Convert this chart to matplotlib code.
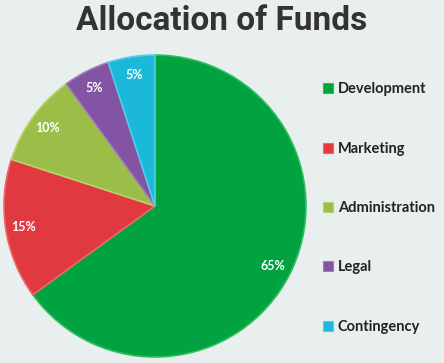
import matplotlib
matplotlib.use('Agg')
import matplotlib.pyplot as plt
from matplotlib.patches import Patch

# data
categories = ['Development', 'Marketing', 'Administration', 'Legal', 'Contingency']
shares = [65, 15, 10, 5, 5]
colors = ['#00A33F', '#E03A40', '#9BBE48', '#8454A4', '#1BB8DA']
edge_colors = ['#2DBE5C', '#F06468', '#B6D46A', '#A07ABA', '#52CDE8']

bg = '#E9EEEE'

fig = plt.figure(figsize=(4.44, 3.63), dpi=100, facecolor=bg)
ax = fig.add_axes([0.009, 0.0165, 0.680, 0.832])
ax.set_facecolor(bg)

wedges, texts, autotexts = ax.pie(
    shares, colors=colors, startangle=90, counterclock=False,
    autopct='%d%%', pctdistance=0.88, radius=1.0,
    wedgeprops=dict(linewidth=1.2),
    textprops=dict(color='white', fontsize=9, fontweight='bold', family='Lato'))
for w, ec in zip(wedges, edge_colors):
    w.set_edgecolor(ec)
ax.set_xlim(-1.0, 1.0)
ax.set_ylim(-1.0, 1.0)
ax.set_aspect('equal')

fig.suptitle('Allocation of Funds', x=0.5, y=0.985, fontsize=24,
             fontweight='bold', color='#333333', family='Roboto')

handles = [Patch(facecolor=c, edgecolor=e, linewidth=0.8) for c, e in zip(colors, edge_colors)]
leg = fig.legend(handles, categories, loc='upper left', bbox_to_anchor=(0.715, 0.789),
                 frameon=False, handlelength=0.65, handleheight=0.65, handletextpad=0.35,
                 labelspacing=3.11, borderaxespad=0,
                 prop=dict(family='Lato', weight='bold', size=10.5))
for t in leg.get_texts():
    t.set_color('#222222')

fig.savefig('out.png', dpi=100, facecolor=bg)
